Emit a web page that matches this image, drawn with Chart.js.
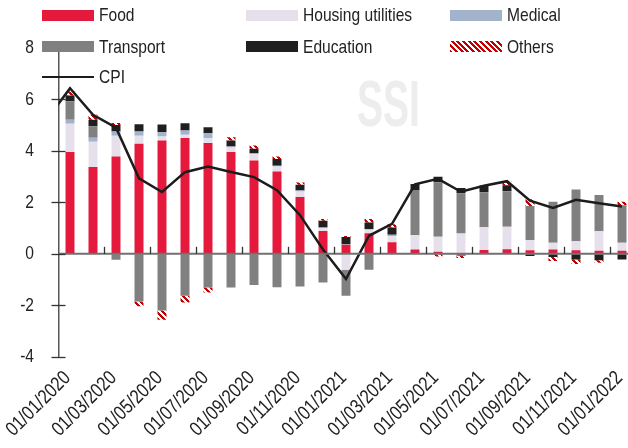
<!DOCTYPE html>
<html><head><meta charset="utf-8">
<script src="https://cdn.jsdelivr.net/npm/chart.js@4/dist/chart.umd.min.js"></script>
<style>
html,body{margin:0;padding:0;background:#fff;overflow:hidden;width:628px;height:448px;}
#wrap{position:relative;width:640px;height:448px;}
#wm{position:absolute;left:357px;top:72px;font-family:"Liberation Sans",Arial,sans-serif;font-weight:bold;font-size:64px;line-height:64px;color:#ededed;transform:scaleX(0.61);transform-origin:left top;z-index:0;white-space:nowrap;}
canvas{position:absolute;left:0;top:0;z-index:1;}
.lg{position:absolute;z-index:2;height:22px;display:flex;align-items:center;font-family:"Liberation Sans",Arial,sans-serif;font-size:19px;color:#222;white-space:nowrap;}
.lg .tx{display:inline-block;transform:scaleX(0.82);transform-origin:left center;}
.sw{display:inline-block;width:52px;height:11px;margin-right:5px;flex:none;}
.ln{display:inline-block;width:52px;height:2px;background:#1c1c1c;margin-right:5px;flex:none;}
</style></head>
<body>
<div id="wrap">
  <div id="wm">SSI</div>
  <canvas id="c" width="640" height="448" style="width:640px;height:448px"></canvas>
  <div id="legend"></div>
</div>
<script>
// ---------- data ----------
const months = ['01/01/2020','01/02/2020','01/03/2020','01/04/2020','01/05/2020','01/06/2020','01/07/2020','01/08/2020','01/09/2020','01/10/2020','01/11/2020','01/12/2020',
                '01/01/2021','01/02/2021','01/03/2021','01/04/2021','01/05/2021','01/06/2021','01/07/2021','01/08/2021','01/09/2021','01/10/2021','01/11/2021','01/12/2021','01/01/2022'];
const prevMonth = '01/12/2019';
const cpiPrev = 5.23;
const food      = [3.95,3.37,3.78,4.27,4.40,4.50,4.30,3.95,3.62,3.20,2.21,0.89,0.35,0.80,0.45,0.17,0.08,-0.08,0.15,0.18,0.14,0.17,0.14,0.12,0.12];
const housing   = [1.10,0.98,0.80,0.31,0.16,0.12,0.19,0.18,0.25,0.19,0.21,0.10,-0.62,0.13,0.24,0.56,0.58,0.79,0.88,0.87,0.39,0.26,0.35,0.76,0.31];
const medical   = [0.16,0.16,0.17,0.17,0.16,0.17,0.19,0.04,0.04,0.03,0.04,0.03,0.02,0.03,0.05,0,0,0,0,0,0,0,0,0,0];
const transport = [0.71,0.44,-0.23,-1.85,-2.20,-1.63,-1.31,-1.31,-1.21,-1.30,-1.27,-1.11,-1.01,-0.62,0,1.75,2.12,1.56,1.36,1.38,1.33,1.59,2.01,1.40,1.46];
const education = [0.23,0.26,0.25,0.28,0.30,0.28,0.23,0.23,0.17,0.26,0.22,0.26,0.28,0.26,0.28,0.23,0.21,0.21,0.26,0.23,-0.09,-0.12,-0.22,-0.25,-0.22];
const others    = [0.16,0.19,0.08,-0.19,-0.36,-0.26,-0.19,0.13,0.13,0.10,0.09,0.07,0.04,0.13,0.13,0,-0.10,-0.08,0,0.15,0.26,-0.16,-0.18,-0.10,0.13];
const cpi       = [6.43,5.40,4.90,2.93,2.40,3.17,3.39,3.18,2.98,2.47,1.50,0.17,-0.98,0.70,1.16,2.70,2.91,2.41,2.64,2.82,2.06,1.78,2.10,1.96,1.84];
const yTicks = [-4,-2,0,2,4,6,8];
const xLabelEvery = 2;

// ---------- styling ----------
const FONT = '"Liberation Sans", Arial, sans-serif';
const NARROW = 0.82;
const COLORS = {food:'#e5193b', housing:'#e6e0ec', medical:'#a2b3cb', transport:'#808080', education:'#1f1f1f', others:'#c00000', cpi:'#1c1c1c'};

function hatch(){
  const c = document.createElement('canvas'); c.width = 6; c.height = 6;
  const g = c.getContext('2d');
  g.fillStyle = '#fff'; g.fillRect(0,0,6,6);
  g.fillStyle = COLORS.others;
  for (let yy=0; yy<6; yy++) for (let xx=0; xx<6; xx++) if (((xx-yy)%6+6)%6 < 3) g.fillRect(xx,yy,1,1);
  return document.getElementById('c').getContext('2d').createPattern(c,'repeat');
}

// ---------- legend (HTML) ----------
const legendItems = [
  {t:'Food', x:42, y:15.3, s:'background:'+COLORS.food},
  {t:'Housing utilities', x:246, y:15.3, s:'background:'+COLORS.housing},
  {t:'Medical', x:450, y:15.3, s:'background:'+COLORS.medical},
  {t:'Transport', x:42, y:46.7, s:'background:'+COLORS.transport},
  {t:'Education', x:246, y:46.7, s:'background:'+COLORS.education},
  {t:'Others', x:450, y:46.7, s:'background:repeating-linear-gradient(45deg,'+COLORS.others+' 0 2px,#fff 2px 4px)'},
  {t:'CPI', x:42, y:76.7, line:true}
];
const lg = document.getElementById('legend');
legendItems.forEach(it=>{
  const d = document.createElement('div'); d.className='lg';
  d.style.left = it.x+'px'; d.style.top = (it.y-11)+'px';
  const sw = document.createElement('span');
  if (it.line) sw.className='ln'; else { sw.className='sw'; sw.setAttribute('style', it.s); }
  d.appendChild(sw);
  const tx = document.createElement('span'); tx.className='tx'; tx.textContent = it.t;
  d.appendChild(tx);
  lg.appendChild(d);
});

// ---------- axis marks + labels plugin ----------
const axisMarks = {
  id:'axisMarks',
  afterDatasetsDraw(chart){
    const {ctx, chartArea:a, scales:{x, y}} = chart;
    ctx.save();
    const y0 = y.getPixelForValue(0);
    ctx.strokeStyle = '#707070'; ctx.lineWidth = 2;
    ctx.beginPath(); ctx.moveTo(a.left, y0); ctx.lineTo(a.right, y0); ctx.stroke();
    ctx.strokeStyle = '#333'; ctx.lineWidth = 1.3;
    yTicks.forEach(v=>{
      const p = Math.round(y.getPixelForValue(v))+0.5;
      ctx.beginPath(); ctx.moveTo(a.left-7, p); ctx.lineTo(a.left+7, p); ctx.stroke();
    });
    for (let i=xLabelEvery; i<x.ticks.length; i+=xLabelEvery){
      const b = (x.getPixelForTick(i)+x.getPixelForTick(i-1))/2;
      ctx.beginPath(); ctx.moveTo(b, y0-7); ctx.lineTo(b, y0); ctx.stroke();
    }
    ctx.restore();
  },
  afterDraw(chart){
    const {ctx, chartArea:a, scales:{x, y}} = chart;
    ctx.save();
    ctx.fillStyle = '#222';
    ctx.font = '19px ' + FONT;
    ctx.textAlign = 'right'; ctx.textBaseline = 'middle';
    yTicks.forEach(v=>{
      ctx.save(); ctx.translate(a.left - 24.5, y.getPixelForValue(v)); ctx.scale(NARROW,1);
      ctx.fillText(String(v), 0, 0); ctx.restore();
    });
    ctx.font = '20px ' + FONT;
    ctx.textBaseline = 'alphabetic';
    x.ticks.forEach((t,i)=>{
      if (i % xLabelEvery) return;
      ctx.save(); ctx.translate(x.getPixelForTick(i) + 1.5, a.bottom + 22); ctx.rotate(-Math.PI/4); ctx.scale(NARROW,1);
      ctx.fillText(x.getLabelForValue(t.value), 0, 0); ctx.restore();
    });
    ctx.restore();
  }
};

const pad = arr => [null, ...arr];
const labels = [prevMonth, ...months];
const barDs = (label, data, color) => ({label, data:pad(data), backgroundColor:color, stack:'cat', order:1, barPercentage:0.39, categoryPercentage:1});

new Chart(document.getElementById('c'), {
  type:'bar',
  data:{
    labels,
    datasets:[
      {type:'line', label:'CPI', data:[cpiPrev, ...cpi], borderColor:COLORS.cpi, borderWidth:2.5, pointRadius:0, tension:0, stack:'cpi', order:0},
      barDs('Food', food, COLORS.food),
      barDs('Housing utilities', housing, COLORS.housing),
      barDs('Medical', medical, COLORS.medical),
      barDs('Transport', transport, COLORS.transport),
      barDs('Education', education, COLORS.education),
      barDs('Others', others, hatch())
    ]
  },
  options:{
    responsive:false, animation:false, devicePixelRatio:1,
    layout:{padding:{left:0, right:6.5, top:47.8, bottom:0}},
    plugins:{legend:{display:false}, tooltip:{enabled:false}},
    scales:{
      x:{
        min:months[0], offset:true,
        afterFit(s){ s.height = 91.2; s.paddingLeft = 0; s.paddingRight = 0; },
        grid:{display:false, drawTicks:false}, border:{display:false},
        ticks:{display:false, autoSkip:false}
      },
      y:{
        stacked:true, min:-4, max:8,
        afterFit(s){ s.width = 58.5; s.paddingTop = 0; s.paddingBottom = 0; },
        afterBuildTicks(s){ s.ticks = yTicks.map(v=>({value:v})); },
        grid:{drawOnChartArea:false, drawTicks:false},
        border:{display:true, color:'#555', width:1.5},
        ticks:{display:false}
      }
    }
  },
  plugins:[axisMarks]
});
</script>
</body></html>
